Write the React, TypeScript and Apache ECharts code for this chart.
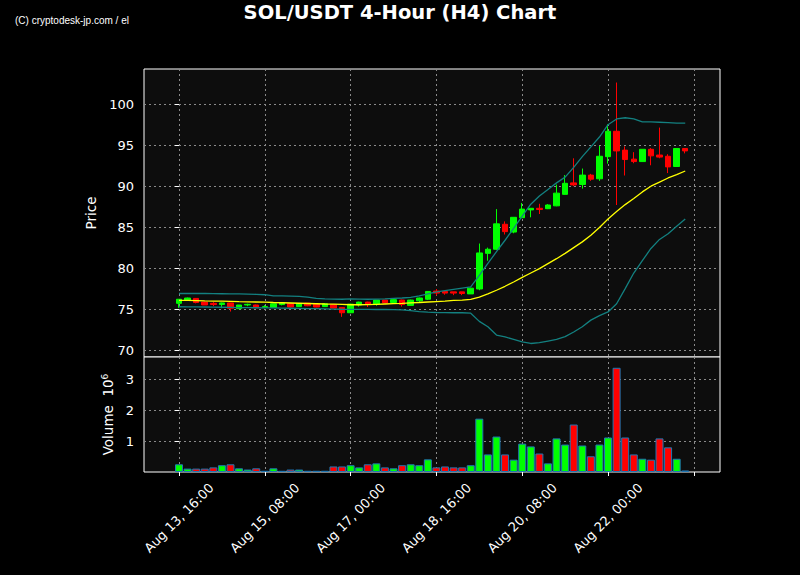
import { useEffect, useRef } from "react";
import * as echarts from "echarts";

// ---- Data ----
const tickIndex = [0, 10, 20, 30, 40, 50, 60];
const tickLabels = ["Aug 13, 16:00", "Aug 15, 08:00", "Aug 17, 00:00", "Aug 18, 16:00", "Aug 20, 08:00", "Aug 22, 00:00", ""];

const opens = [
  75.7, 76.1, 76.3, 75.85, 75.7, 75.55, 75.75, 75.05, 75.5, 75.5,
  75.2, 75.2, 75.55, 75.65, 75.3, 75.72, 75.6, 75.3, 75.52, 75.2,
  74.55, 75.5, 75.85, 75.6, 76.1, 75.8, 76.1, 75.45, 76.0, 76.2,
  77.2, 77.15, 77.1, 77.1, 76.85, 77.45, 81.8, 82.3, 85.35, 84.4,
  86.15, 87.1, 87.3, 87.25, 87.6, 89.0, 90.4, 90.2, 91.35, 90.9,
  93.6, 96.7, 94.4, 93.3, 93.0, 94.5, 93.8, 93.65, 92.4, 94.6,
];
const closes = [
  76.2, 76.35, 75.8, 75.5, 75.55, 75.75, 75.1, 75.5, 75.58, 75.15,
  75.3, 75.65, 75.75, 75.25, 75.65, 75.4, 75.25, 75.65, 75.12, 74.55,
  75.6, 75.85, 75.55, 76.1, 75.75, 76.15, 75.55, 76.1, 76.35, 77.15,
  76.95, 76.95, 76.95, 76.9, 77.55, 81.85, 82.3, 85.4, 84.45, 86.2,
  87.2, 87.3, 87.15, 87.7, 89.15, 90.35, 90.15, 91.35, 90.85, 93.65,
  96.7, 94.3, 93.25, 93.0, 94.5, 93.7, 93.55, 92.35, 94.6, 94.3,
];
const lows = [
  75.15, 76.1, 75.7, 75.5, 75.35, 75.1, 74.7, 75.0, 75.35, 75.1,
  75.1, 75.15, 75.45, 75.2, 75.28, 75.35, 75.22, 75.28, 75.1, 74.05,
  74.5, 75.3, 75.25, 75.4, 75.75, 75.7, 75.3, 75.4, 75.85, 76.1,
  76.65, 76.75, 76.7, 76.7, 76.85, 77.3, 80.9, 82.2, 84.1, 84.25,
  86.1, 86.2, 86.6, 87.2, 87.55, 88.95, 90.0, 89.7, 90.65, 90.65,
  92.75, 87.7, 91.3, 92.8, 92.95, 92.55, 93.4, 91.6, 92.35, 94.0,
];
const highs = [
  76.2, 76.4, 76.3, 75.9, 75.85, 75.8, 75.75, 75.5, 75.65, 75.55,
  75.5, 75.65, 75.85, 75.7, 75.65, 75.75, 75.62, 75.66, 75.55, 75.2,
  75.65, 75.9, 75.9, 76.1, 76.1, 76.2, 76.15, 76.15, 76.4, 77.2,
  77.45, 77.2, 77.1, 77.1, 77.6, 83.0, 82.5, 87.2, 85.7, 86.2,
  87.95, 87.3, 87.85, 87.8, 90.2, 91.35, 93.4, 92.15, 91.5, 94.9,
  97.55, 102.65, 94.85, 94.15, 94.5, 94.65, 97.15, 93.9, 94.65, 94.65,
];
const volumes = [
  250000, 110000, 110000, 110000, 150000, 220000, 250000, 120000, 80000, 120000,
  40000, 120000, 40000, 80000, 80000, 40000, 40000, 40000, 180000, 180000,
  220000, 150000, 250000, 280000, 150000, 120000, 220000, 250000, 220000, 410000,
  150000, 180000, 150000, 150000, 220000, 1730000, 570000, 1150000, 570000, 400000,
  920000, 830000, 600000, 280000, 1090000, 890000, 1540000, 860000, 510000, 890000,
  1120000, 3380000, 1120000, 570000, 430000, 400000, 1090000, 800000, 430000, 50000,
];
const middleBand = [
  76.06, 76.05, 76.03, 76.0, 75.98, 75.96, 75.93, 75.9, 75.88, 75.86,
  75.84, 75.8, 75.77, 75.74, 75.71, 75.68, 75.65, 75.62, 75.6, 75.57,
  75.53, 75.53, 75.54, 75.58, 75.62, 75.66, 75.7, 75.75, 75.8, 75.86,
  75.92, 75.98, 76.05, 76.1, 76.18, 76.45, 76.85, 77.3, 77.78, 78.3,
  78.87, 79.4, 79.93, 80.55, 81.15, 81.8, 82.5, 83.2, 84.0, 84.95,
  86.0, 86.9, 87.75, 88.5, 89.3, 90.0, 90.5, 91.0, 91.4, 91.85,
];
const upperBand = [
  76.9, 76.9, 76.9, 76.9, 76.88, 76.87, 76.86, 76.85, 76.83, 76.8,
  76.75, 76.62, 76.6, 76.58, 76.55, 76.45, 76.3, 76.25, 76.22, 76.2,
  76.24, 76.22, 76.2, 76.22, 76.25, 76.3, 76.35, 76.42, 76.6, 76.85,
  77.1, 77.25, 77.4, 77.55, 77.7, 79.1, 80.57, 82.0, 83.4, 84.84,
  86.34, 87.8, 88.8, 89.6, 90.4, 91.1, 92.3, 93.6, 94.8, 96.0,
  97.5, 98.2, 98.35, 98.2, 97.85, 97.85, 97.8, 97.75, 97.7, 97.7,
];
const lowerBand = [
  75.28, 75.27, 75.26, 75.25, 75.24, 75.22, 75.2, 75.18, 75.17, 75.16,
  75.15, 75.14, 75.12, 75.1, 75.08, 75.06, 75.05, 75.03, 75.0, 74.98,
  74.97, 74.96, 74.96, 74.95, 74.95, 74.94, 74.9, 74.8, 74.7, 74.62,
  74.58, 74.56, 74.55, 74.55, 74.5, 73.5, 72.84, 71.83, 71.6, 71.3,
  71.0, 70.8, 70.9, 71.1, 71.3, 71.63, 72.2, 72.85, 73.65, 74.2,
  74.65, 75.65, 77.5, 79.4, 80.9, 82.4, 83.5, 84.2, 85.1, 86.0,
];
const priceTicks = [70, 75, 80, 85, 90, 95, 100];
const volumeTicks = [1000000, 2000000, 3000000];

// ---- Layout constants ----
const X_MIN = -4.08;
const X_MAX = 63.05;
const UP = "#00ff00";
const DOWN = "#ff0000";
const BAND = "#138080";
const FONT = "DejaVu Sans";

export default function App() {
  const ref = useRef<HTMLDivElement>(null);

  useEffect(() => {
    if (!ref.current) return;
    const chart = echarts.init(ref.current, null, { renderer: "svg" });

    const gridLine = { show: true, lineStyle: { color: "#8a8a8a", type: [2, 3], width: 1 } };

    const candleData = opens.map((o, i) => [i, o, closes[i], lows[i], highs[i]]);
    const volData = volumes.map((v, i) => ({
      value: [i, v],
      itemStyle: { color: closes[i] >= opens[i] ? UP : DOWN },
    }));
    const line = (arr: number[]) => arr.map((v, i) => [i, v]);

    const option: any = {
      animation: false,
      backgroundColor: "#000000",
      title: [
        {
          text: "SOL/USDT 4-Hour (H4) Chart",
          left: "center",
          top: 2,
          padding: 0,
          textStyle: { color: "#ffffff", fontFamily: FONT, fontWeight: "bold", fontSize: 19.5 },
        },
        {
          text: "(C) cryptodesk-jp.com / el",
          left: 15,
          top: 15,
          padding: 0,
          textStyle: { color: "#ffffff", fontFamily: "Liberation Sans Narrow, Liberation Sans", fontWeight: "normal", fontSize: 10 },
        },
      ],
      grid: [
        { left: 144, top: 69, width: 576, height: 288, show: true, backgroundColor: "#0d0d0d", borderColor: "#ffffff", borderWidth: 1 },
        { left: 144, top: 357, width: 576, height: 115, show: true, backgroundColor: "#0d0d0d", borderColor: "#ffffff", borderWidth: 1 },
      ],
      xAxis: [
        {
          type: "value",
          gridIndex: 0,
          min: X_MIN,
          max: X_MAX,
          axisLine: { show: false },
          axisTick: { show: false, customValues: tickIndex },
          axisLabel: { show: false, customValues: tickIndex },
          splitLine: gridLine,
        },
        {
          type: "value",
          gridIndex: 1,
          min: X_MIN,
          max: X_MAX,
          axisLine: { show: false },
          axisTick: { show: true, customValues: tickIndex, length: 4, lineStyle: { color: "#ffffff" } },
          axisLabel: {
            customValues: tickIndex,
            formatter: (v: number) => {
              const k = tickIndex.indexOf(Math.round(v));
              return k >= 0 ? tickLabels[k] : "";
            },
            rotate: 45,
            align: "center",
            verticalAlign: "middle",
            margin: 46,
            color: "#ffffff",
            fontSize: 13,
            fontFamily: FONT,
          },
          splitLine: gridLine,
        },
      ],
      yAxis: [
        {
          type: "value",
          gridIndex: 0,
          min: 69.15,
          max: 104.3,
          name: "Price",
          nameLocation: "middle",
          nameRotate: 90,
          nameGap: 40,
          nameTextStyle: { color: "#ffffff", fontSize: 13.5, fontFamily: FONT },
          axisLine: { show: false },
          axisTick: { show: true, customValues: priceTicks, length: 4, lineStyle: { color: "#ffffff" } },
          axisLabel: { customValues: priceTicks, color: "#ffffff", fontSize: 13, fontFamily: FONT, margin: 10 },
          splitLine: gridLine,
        },
        {
          type: "value",
          gridIndex: 1,
          min: 0,
          max: 3730000,
          name: "{a|Volume  10}{b|6}",
          nameLocation: "middle",
          nameRotate: 90,
          nameGap: 27,
          nameTextStyle: {
            color: "#ffffff",
            rich: {
              a: { fontSize: 13.5, color: "#ffffff", fontFamily: FONT },
              b: { fontSize: 9, color: "#ffffff", fontFamily: FONT, verticalAlign: "top" },
            },
          },
          axisLine: { show: false },
          axisTick: { show: true, customValues: volumeTicks, length: 4, lineStyle: { color: "#ffffff" } },
          axisLabel: {
            customValues: volumeTicks,
            formatter: (v: number) => String(Math.round(v / 1000000)),
            color: "#ffffff",
            fontSize: 13,
            fontFamily: FONT,
            margin: 10,
          },
          splitLine: gridLine,
        },
      ],
      series: [
        {
          type: "candlestick",
          xAxisIndex: 0,
          yAxisIndex: 0,
          data: candleData,
          encode: { x: 0, y: [1, 2, 3, 4] },
          barWidth: 6,
          itemStyle: { color: UP, color0: DOWN, borderColor: UP, borderColor0: DOWN, borderWidth: 1 },
          z: 2,
        },
        {
          type: "line",
          xAxisIndex: 0,
          yAxisIndex: 0,
          data: line(upperBand),
          showSymbol: false,
          lineStyle: { color: BAND, width: 1.3 },
          z: 3,
        },
        {
          type: "line",
          xAxisIndex: 0,
          yAxisIndex: 0,
          data: line(lowerBand),
          showSymbol: false,
          lineStyle: { color: BAND, width: 1.3 },
          z: 3,
        },
        {
          type: "line",
          xAxisIndex: 0,
          yAxisIndex: 0,
          data: line(middleBand),
          showSymbol: false,
          lineStyle: { color: "#ffff00", width: 1.3 },
          z: 4,
        },
        {
          type: "bar",
          xAxisIndex: 1,
          yAxisIndex: 1,
          data: volData,
          barWidth: 8,
          itemStyle: { borderColor: "#1f77b4", borderWidth: 1 },
        },
      ],
    };

    chart.setOption(option);
    return () => chart.dispose();
  }, []);

  return <div ref={ref} style={{ position: "fixed", left: 0, top: 0, width: 800, height: 575 }} />;
}
